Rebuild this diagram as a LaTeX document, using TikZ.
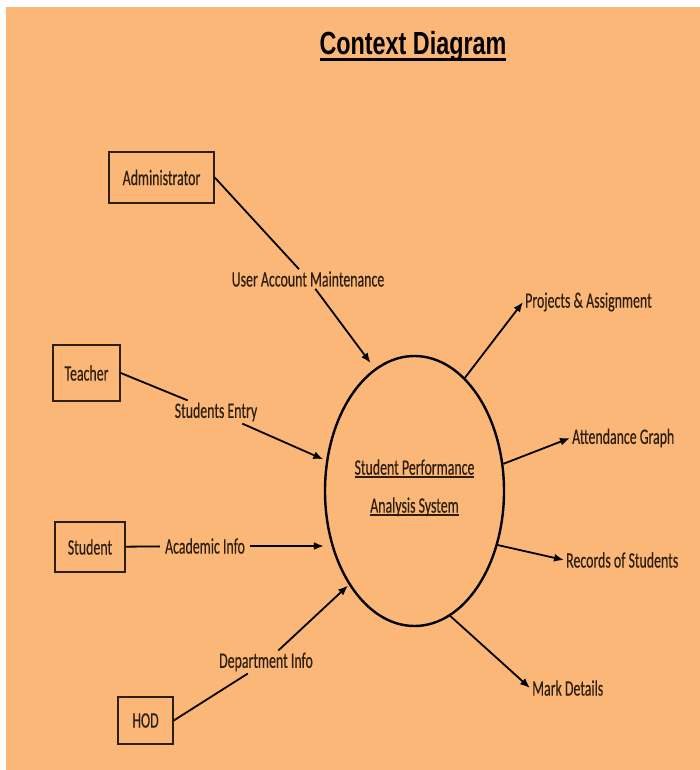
\documentclass[tikz,border=0pt]{standalone}
\usepackage{fontspec}
\usepackage{tikz}
\usetikzlibrary{shapes.geometric,arrows.meta}

\newfontfamily\lblfont{Carlito}[FakeStretch=0.63,FakeBold=0.3]
\newfontfamily\ttlfont{Liberation Sans}[FakeStretch=0.73]
\definecolor{bgorange}{RGB}{250,183,120}
\definecolor{ink}{RGB}{45,30,15}
% underline drawn through the descenders, as in the source
\newcommand{\ulin}[3]{\setbox0\hbox{#3}\rlap{\rule[-#1]{\wd0}{#2}}\box0}

\begin{document}
\begin{tikzpicture}[x=1pt,y=-1pt,
  entity/.style={draw=ink, line width=1.5pt, inner xsep=4pt, text=ink,
    font=\lblfont\fontsize{22}{26}\selectfont},
  flowlbl/.style={inner xsep=5pt, inner ysep=2pt, text=ink, font=\lblfont\fontsize{22}{26}\selectfont},
  link/.style={line width=1.8pt},
  >={Latex[length=10pt,width=8pt]}]

  \useasboundingbox (0,0) rectangle (700,770);
  \fill[bgorange] (6,7) rectangle (700,770);

  \node[anchor=base, font=\ttlfont\bfseries\fontsize{32}{36}\selectfont] (title) at (413,55)
    {\ulin{6pt}{2.5pt}{Context Diagram}};

  % process
  \node[ellipse, draw, line width=2.4pt, minimum width=179pt, minimum height=270pt, inner sep=0pt,
    align=center, text=ink, font=\lblfont\fontsize{22}{38}\selectfont] (sys) at (414.5,491)
    {\ulin{3pt}{1.3pt}{Student Performance}\\\ulin{3pt}{1.3pt}{Analysis System}\\[-28pt]};

  % external entities
  \node[entity, minimum width=105pt, minimum height=51pt] (admin) at (161.5,177.5) {Administrator};
  \node[entity, minimum width=67pt, minimum height=56pt] (teacher) at (86.5,373) {Teacher};
  \node[entity, minimum width=70pt, minimum height=50pt] (student) at (90,547) {Student};
  \node[entity, minimum width=55pt, minimum height=47pt] (hod) at (145.5,720.5) {HOD};

  % incoming flows
  \node[flowlbl] (uam) at (308,279) {User Account Maintenance};
  \node[flowlbl] (sentry) at (216,412) {Students Entry};
  \node[flowlbl] (acad) at (205,546) {Academic Info};
  \node[flowlbl] (dept) at (266,662) {Department Info};

  \draw[link] (admin.east) -- (uam);
  \draw[link,->,shorten >=7pt] (uam) -- (sys.108);
  \draw[link] (teacher.east) -- (sentry);
  \draw[link,->,shorten >=3pt] (sentry) -- (sys.161);
  \draw[link] (student) -- (acad);
  \draw[link,->] (acad) -- (sys.west |- acad);
  \draw[link] (hod.east) -- (dept);
  \draw[link,->,shorten >=1pt] (dept) -- (sys.235);

  % outgoing flows
  \node[flowlbl, anchor=west, inner xsep=2pt] (proj) at (523,302) {Projects \& Assignment};
  \node[flowlbl, anchor=west, inner xsep=2pt] (attg) at (570,438) {Attendance Graph};
  \node[flowlbl, anchor=west, inner xsep=2pt] (recs) at (564,560) {Records of Students};
  \node[flowlbl, anchor=west, inner xsep=2pt] (marks) at (530,688) {Mark Details};

  \draw[link,->] (sys.66) -- (proj.west);
  \draw[link,->] (sys.17) -- (attg.west);
  \draw[link,->] (sys.-33) -- (recs.west);
  \draw[link,->] (sys.-74) -- (marks.west);

\end{tikzpicture}
\end{document}
